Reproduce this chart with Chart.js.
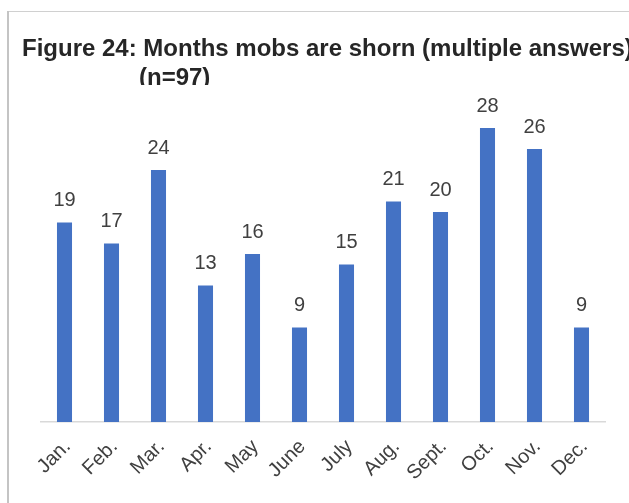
<!DOCTYPE html>
<html>
<head>
<meta charset="utf-8">
<script src="https://cdn.jsdelivr.net/npm/chart.js@4.4.1/dist/chart.umd.min.js"></script>
<style>
html,body{margin:0;padding:0;background:#fff;}
#wrap{width:629px;height:503px;position:relative;}
</style>
</head>
<body>
<div id="wrap"><canvas id="c" width="629" height="503"></canvas></div>
<script>
const categories = ["Jan.", "Feb.", "Mar.", "Apr.", "May", "June", "July", "Aug.", "Sept.", "Oct.", "Nov.", "Dec."];
const counts = [19, 17, 24, 13, 16, 9, 15, 21, 20, 28, 26, 9];
const titleLines = ["Figure 24: Months mobs are shorn (multiple answers)", "(n=97)"];

const framePlugin = {
  id: 'frame',
  beforeDraw(chart) {
    const ctx = chart.ctx;
    ctx.save();
    ctx.fillStyle = '#ffffff';
    ctx.fillRect(0, 0, chart.width, chart.height);
    ctx.strokeStyle = '#d0d0d0';
    ctx.lineWidth = 1;
    ctx.beginPath();
    ctx.moveTo(7, 11.5);
    ctx.lineTo(chart.width, 11.5);
    ctx.stroke();
    ctx.strokeStyle = '#c4c4c4';
    ctx.lineWidth = 2;
    ctx.beginPath();
    ctx.moveTo(8, 11);
    ctx.lineTo(8, chart.height);
    ctx.stroke();
    ctx.restore();
  }
};

const titlePlugin = {
  id: 'titleText',
  afterDraw(chart) {
    const ctx = chart.ctx;
    ctx.save();
    ctx.beginPath();
    ctx.rect(0, 0, chart.width, 85);
    ctx.clip();
    ctx.fillStyle = '#262626';
    ctx.font = 'bold 24px "Liberation Sans", Arial, sans-serif';
    ctx.textBaseline = 'alphabetic';
    ctx.textAlign = 'left';
    ctx.fillText(titleLines[0], 22, 56);
    ctx.fillText(titleLines[1], 139, 85);
    ctx.restore();
  }
};

const labelPlugin = {
  id: 'barLabels',
  afterDatasetsDraw(chart) {
    const ctx = chart.ctx;
    const meta = chart.getDatasetMeta(0);
    ctx.save();
    ctx.fillStyle = '#404040';
    ctx.font = '20px "Liberation Sans", Arial, sans-serif';
    ctx.textAlign = 'center';
    ctx.textBaseline = 'alphabetic';
    meta.data.forEach((bar, i) => {
      ctx.fillText(String(counts[i]), bar.x, bar.y - 16.5);
    });
    ctx.restore();
  }
};

new Chart(document.getElementById('c'), {
  type: 'bar',
  data: {
    labels: categories,
    datasets: [{
      data: counts,
      backgroundColor: '#4472C4',
      borderWidth: 0,
      barPercentage: 0.32,
      categoryPercentage: 1.0
    }]
  },
  options: {
    responsive: false,
    animation: false,
    layout: { padding: { left: 41, right: 24, top: 107, bottom: 0 } },
    plugins: {
      legend: { display: false },
      title: { display: false },
      tooltip: { enabled: false }
    },
    scales: {
      x: {
        grid: { display: false, drawTicks: false },
        border: { color: '#d9d9d9', width: 1.5 },
        ticks: {
          color: '#404040',
          font: { size: 20, family: '"Liberation Sans", Arial, sans-serif' },
          minRotation: 45,
          maxRotation: 45,
          padding: 13,
          labelOffset: 3,
          autoSkip: false
        },
        afterFit(scale) {
          scale.height = 81;
          scale.paddingLeft = 0;
          scale.paddingRight = 0;
        }
      },
      y: {
        display: false,
        min: 0,
        max: 30
      }
    }
  },
  plugins: [framePlugin, titlePlugin, labelPlugin]
});
</script>
</body>
</html>
